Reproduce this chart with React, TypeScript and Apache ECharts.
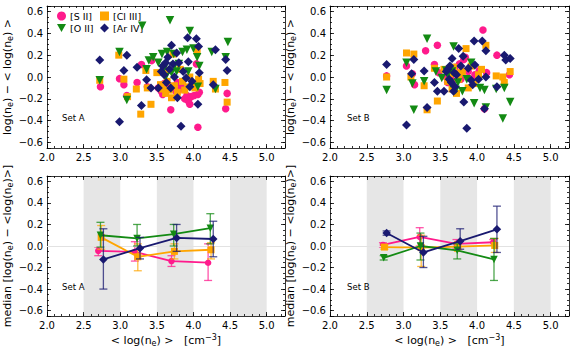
import React, { useEffect, useRef } from "react";
import * as echarts from "echarts";

// ---------- series metadata ----------
const SPECIES = ["[S II]", "[Cl III]", "[O II]", "[Ar IV]"];
const COLORS = ["#ff1a8c", "#ffa500", "#138a13", "#191970"];
const SYMBOLS = ["circle", "rect", "path://M0,0L10,0L5,9Z", "diamond"];
const SIZES = [7.5, 7, 8.5, 9];
const MED_SIZES = [6.5, 7, 7.5, 8.5];

// ---------- axes ----------
const X_MIN = 2.0;
const X_MAX = 5.25;
const Y_MIN = -0.65;
const Y_MAX = 0.65;
const X_MAJOR = 0.5;
const X_MINOR = 0.1;
const Y_MAJOR = 0.2;
const Y_MINOR = 0.05;
const BANDS = [
  [2.5, 3.0],
  [3.5, 4.0],
  [4.5, 5.0],
];

// ---------- Set A: individual points [<log ne>, deviation] ----------
const setA_SII = [
  [2.73, -0.09], [2.99, -0.015], [3.05, -0.07], [3.09, -0.17], [3.23, -0.05], [3.29, 0.115],
  [3.37, -0.09], [3.43, 0.15], [3.52, -0.1], [3.56, -0.13], [3.58, -0.16], [3.62, -0.12],
  [3.66, -0.08], [3.69, -0.3], [3.72, -0.1], [3.76, -0.13], [3.8, -0.12], [3.84, -0.09],
  [3.88, -0.2], [3.91, -0.17], [3.93, -0.22], [3.95, -0.25], [3.97, -0.18], [4.01, -0.17],
  [4.04, 0.12], [4.06, -0.16], [4.06, -0.46], [4.08, -0.14], [4.44, -0.29], [4.46, -0.15],
  [3.78, -0.05], [3.6, -0.06],
];
const setA_ClIII = [
  [2.72, -0.03], [2.98, 0.2], [3.05, -0.02], [3.1, -0.18], [3.22, -0.11], [3.28, -0.34],
  [3.35, 0.06], [3.37, -0.1], [3.42, -0.25], [3.5, 0.04], [3.55, -0.07], [3.58, -0.11],
  [3.62, -0.15], [3.64, -0.04], [3.67, -0.12], [3.7, -0.19], [3.72, 0.21], [3.74, -0.08],
  [3.78, -0.14], [3.82, 0.07], [3.85, -0.04], [3.88, -0.12], [3.92, -0.09], [3.95, 0.0],
  [3.98, -0.06], [4.02, -0.1], [4.05, 0.24], [4.07, -0.02], [4.09, -0.06], [4.27, -0.04],
  [4.3, -0.11], [4.43, -0.05], [4.46, -0.23], [3.66, 0.06],
];
const setA_OII = [
  [2.72, -0.03], [2.99, 0.23], [3.09, -0.21], [3.3, 0.47], [3.36, 0.07], [3.39, 0.15],
  [3.45, 0.18], [3.52, 0.13], [3.57, 0.21], [3.6, 0.08], [3.64, 0.23], [3.68, 0.52],
  [3.7, 0.04], [3.73, 0.21], [3.77, 0.05], [3.8, 0.12], [3.85, 0.23], [3.91, 0.25],
  [3.93, 0.05], [3.95, 0.42], [4.0, 0.26], [4.05, 0.18], [4.06, -0.09], [4.08, 0.1],
  [4.25, 0.23], [4.3, -0.11], [4.44, 0.18], [4.47, 0.32], [3.62, 0.0], [3.74, 0.1],
];
const setA_ArIV = [
  [2.72, 0.155], [2.99, -0.41], [3.05, 0.06], [3.09, 0.2], [3.23, 0.09], [3.29, -0.26],
  [3.36, -0.025], [3.42, -0.1], [3.52, -0.1], [3.56, 0.05], [3.58, 0.1], [3.6, 0.02],
  [3.62, 0.13], [3.63, -0.05], [3.65, 0.18], [3.67, 0.07], [3.69, -0.1], [3.7, 0.29],
  [3.72, 0.12], [3.74, 0.0], [3.77, 0.22], [3.78, -0.19], [3.8, 0.13], [3.83, -0.45],
  [3.86, 0.05], [3.9, -0.01], [3.92, 0.36], [3.93, 0.14], [3.95, -0.09], [3.98, -0.04],
  [4.04, 0.35], [4.06, -0.25], [4.07, 0.28], [4.08, 0.04], [4.27, -0.07], [4.3, 0.25],
  [4.44, 0.16], [4.46, 0.06],
];

// ---------- Set B: individual points ----------
const setB_SII = [
  [2.77, 0.01], [3.04, 0.1], [3.12, 0.03], [3.15, -0.07], [3.3, 0.24], [3.42, 0.115],
  [3.46, 0.29], [3.48, 0.04], [3.58, 0.0], [3.62, 0.07], [3.66, -0.03], [3.7, 0.09],
  [3.74, 0.03], [3.78, -0.02], [3.82, 0.16], [3.84, 0.18], [3.88, 0.05], [3.93, -0.02],
  [3.97, 0.02], [4.03, 0.06], [4.08, 0.43], [4.1, -0.29], [4.13, 0.04], [4.27, 0.2],
  [4.44, 0.02], [3.6, -0.05], [3.76, 0.12],
];
const setB_ClIII = [
  [2.77, 0.0], [3.04, 0.22], [3.1, 0.0], [3.14, 0.21], [3.28, -0.08], [3.32, -0.3],
  [3.42, 0.08], [3.46, -0.22], [3.55, 0.07], [3.6, -0.04], [3.64, 0.03], [3.68, 0.09],
  [3.72, -0.15], [3.75, -0.02], [3.8, 0.05], [3.85, 0.26], [3.88, -0.1], [3.92, 0.1],
  [3.96, -0.06], [4.02, 0.02], [4.06, 0.07], [4.12, 0.29], [4.26, 0.01], [4.35, 0.0],
  [4.37, -0.05], [4.45, 0.05], [3.66, -0.11], [3.78, 0.04],
];
const setB_OII = [
  [2.77, -0.12], [3.04, 0.13], [3.12, -0.06], [3.14, -0.3], [3.28, -0.04], [3.32, 0.35],
  [3.44, 0.05], [3.52, -0.01], [3.6, 0.02], [3.64, -0.06], [3.68, 0.28], [3.71, -0.12],
  [3.74, -0.05], [3.8, -0.13], [3.86, -0.02], [3.92, 0.13], [3.96, -0.24], [4.04, -0.1],
  [4.1, -0.12], [4.12, -0.28], [4.26, -0.11], [4.35, -0.38], [4.37, -0.1], [4.45, -0.23],
  [3.66, 0.05], [3.58, 0.06],
];
const setB_ArIV = [
  [2.77, 0.115], [3.04, -0.44], [3.11, 0.03], [3.14, 0.16], [3.28, 0.055], [3.32, -0.28],
  [3.42, -0.05], [3.46, -0.13], [3.55, -0.13], [3.58, 0.05], [3.6, 0.07], [3.62, -0.02],
  [3.63, 0.1], [3.65, -0.05], [3.66, 0.17], [3.68, -0.13], [3.69, 0.04], [3.7, -0.09],
  [3.72, 0.02], [3.75, 0.26], [3.78, 0.1], [3.81, 0.19], [3.82, -0.23], [3.86, -0.47],
  [3.88, 0.08], [3.92, -0.03], [3.94, -0.07], [3.96, 0.33], [3.97, 0.11], [4.02, -0.02],
  [4.07, 0.33], [4.1, -0.29], [4.12, 0.24], [4.12, 0.0], [4.27, -0.09], [4.37, 0.2],
  [4.39, 0.155], [4.45, 0.17],
];

// ---------- medians per bin: [x, median, low, high] ----------
const medA_SII = [[2.7, -0.045, -0.09, -0.01], [3.2, -0.055, -0.14, 0.04], [3.7, -0.14, -0.19, -0.09], [4.2, -0.155, -0.32, 0.02]];
const medA_ClIII = [[2.74, 0.08, -0.03, 0.19], [3.24, -0.1, -0.23, 0.02], [3.74, -0.05, -0.12, 0.02], [4.24, -0.035, -0.12, 0.03]];
const medA_OII = [[2.73, 0.1, -0.01, 0.22], [3.23, 0.07, 0.0, 0.2], [3.73, 0.11, 0.0, 0.2], [4.23, 0.165, 0.02, 0.3]];
const medA_ArIV = [[2.77, -0.125, -0.4, 0.16], [3.27, -0.02, -0.12, 0.08], [3.77, 0.075, -0.05, 0.2], [4.27, 0.065, -0.1, 0.23]];

const medB_SII = [[2.72, 0.01, -0.01, 0.03], [3.22, 0.085, 0.0, 0.17], [3.72, 0.02, -0.02, 0.06], [4.22, 0.035, 0.0, 0.06]];
const medB_ClIII = [[2.74, -0.01, -0.03, 0.01], [3.24, -0.015, -0.19, 0.1], [3.74, -0.005, -0.05, 0.04], [4.24, 0.005, -0.06, 0.07]];
const medB_OII = [[2.73, -0.11, -0.13, -0.09], [3.23, 0.0, -0.13, 0.12], [3.73, -0.04, -0.12, 0.02], [4.23, -0.125, -0.32, 0.07]];
const medB_ArIV = [[2.77, 0.12, 0.1, 0.14], [3.27, -0.06, -0.2, 0.09], [3.77, 0.045, -0.03, 0.16], [4.27, 0.155, -0.06, 0.37]];

const SET_LABELS = ["Set A", "Set B"];

const FONT = "DejaVu Sans";
const BLACK = "#000";

function fmt(v: number) {
  if (Math.abs(v) < 1e-9) return "0.0";
  return v.toFixed(1).replace("-", "\u2212");
}
function isMultiple(v: number, step: number) {
  const r = v / step;
  return Math.abs(r - Math.round(r)) < 1e-6;
}

export default function App() {
  const ref = useRef<HTMLDivElement>(null);

  useEffect(() => {
    if (!ref.current) return;
    const chart = echarts.init(ref.current, undefined, { renderer: "svg" });

    const grids = [
      { left: 47, top: 6, width: 238, height: 142 },
      { left: 330, top: 6, width: 239, height: 142 },
      { left: 47, top: 176, width: 238, height: 140 },
      { left: 330, top: 176, width: 239, height: 140 },
    ];

    const lineStyle = { color: BLACK, width: 0.8 };
    const xAxes: any[] = [];
    const yAxes: any[] = [];

    const yNameTop = "log(n{s|e}) \u2212 < log(n{s|e}) >";
    const yNameBottom = "median [log(n{s|e}) \u2212 <log(n{s|e})>]";
    const xName = "< log(n{s|e}) >   [cm{p|\u22123}]";
    const nameStyle = {
      fontFamily: FONT,
      fontSize: 11,
      color: BLACK,
      rich: {
        s: { fontFamily: FONT, fontSize: 8, color: BLACK, padding: [6, 0, 0, 0] },
        p: { fontFamily: FONT, fontSize: 8, color: BLACK, padding: [0, 0, 7, 0] },
      },
    };

    grids.forEach((_, g) => {
      const isBottom = g >= 2;
      xAxes.push({
        type: "value", gridIndex: g, position: "bottom", min: X_MIN, max: X_MAX, interval: X_MAJOR,
        axisLine: { show: true, onZero: false, lineStyle },
        axisTick: { show: true, inside: true, length: 4, lineStyle },
        axisLabel: {
          show: true, color: BLACK, fontFamily: FONT, fontSize: 10, margin: 4,
          formatter: (v: number) => (isMultiple(v, X_MAJOR) && v <= 5.0001 ? fmt(v) : ""),
        },
        splitLine: { show: false },
        name: isBottom ? xName : "",
        nameLocation: "middle",
        nameGap: 17,
        nameTextStyle: nameStyle,
      });
      xAxes.push({
        type: "value", gridIndex: g, position: "bottom", min: X_MIN, max: X_MAX, interval: X_MINOR,
        axisLine: { show: false, onZero: false },
        axisTick: { show: true, inside: true, length: 2, lineStyle },
        axisLabel: { show: false }, splitLine: { show: false },
      });
      xAxes.push({
        type: "value", gridIndex: g, position: "top", min: X_MIN, max: X_MAX, interval: X_MAJOR,
        axisLine: { show: true, onZero: false, lineStyle },
        axisTick: { show: true, inside: true, length: 4, lineStyle },
        axisLabel: { show: false }, splitLine: { show: false },
      });
      xAxes.push({
        type: "value", gridIndex: g, position: "top", min: X_MIN, max: X_MAX, interval: X_MINOR,
        axisLine: { show: false, onZero: false },
        axisTick: { show: true, inside: true, length: 2, lineStyle },
        axisLabel: { show: false }, splitLine: { show: false },
      });

      yAxes.push({
        type: "value", gridIndex: g, position: "left", min: Y_MIN, max: Y_MAX,
        minInterval: Y_MAJOR, maxInterval: Y_MAJOR, splitNumber: 6,
        axisLine: { show: true, onZero: false, lineStyle },
        axisTick: { show: true, inside: true, length: 4, lineStyle },
        axisLabel: {
          show: true, color: BLACK, fontFamily: FONT, fontSize: 10, margin: 4,
          formatter: (v: number) => (isMultiple(v, Y_MAJOR) ? fmt(v) : ""),
        },
        splitLine: { show: false },
        name: isBottom ? yNameBottom : yNameTop,
        nameLocation: "middle",
        nameGap: isBottom ? 31 : 29,
        nameRotate: 90,
        nameTextStyle: nameStyle,
      });
      yAxes.push({
        type: "value", gridIndex: g, position: "left", min: Y_MIN, max: Y_MAX, interval: Y_MINOR,
        axisLine: { show: false, onZero: false },
        axisTick: { show: true, inside: true, length: 2, lineStyle },
        axisLabel: { show: false }, splitLine: { show: false },
      });
      yAxes.push({
        type: "value", gridIndex: g, position: "right", min: Y_MIN, max: Y_MAX,
        minInterval: Y_MAJOR, maxInterval: Y_MAJOR, splitNumber: 6,
        axisLine: { show: true, onZero: false, lineStyle },
        axisTick: { show: true, inside: true, length: 4, lineStyle },
        axisLabel: { show: false }, splitLine: { show: false },
      });
      yAxes.push({
        type: "value", gridIndex: g, position: "right", min: Y_MIN, max: Y_MAX, interval: Y_MINOR,
        axisLine: { show: false, onZero: false },
        axisTick: { show: true, inside: true, length: 2, lineStyle },
        axisLabel: { show: false }, splitLine: { show: false },
      });
    });

    const series: any[] = [];
    const scatterSets = [
      [setA_SII, setA_ClIII, setA_OII, setA_ArIV],
      [setB_SII, setB_ClIII, setB_OII, setB_ArIV],
    ];
    scatterSets.forEach((sets, g) => {
      sets.forEach((data, k) => {
        series.push({
          type: "scatter",
          name: SPECIES[k],
          xAxisIndex: g * 4,
          yAxisIndex: g * 4,
          data,
          symbol: SYMBOLS[k],
          symbolSize: SIZES[k],
          itemStyle: { color: COLORS[k], opacity: 1 },
          z: 3 + k,
        });
      });
    });

    const medSets = [
      [medA_SII, medA_ClIII, medA_OII, medA_ArIV],
      [medB_SII, medB_ClIII, medB_OII, medB_ArIV],
    ];
    medSets.forEach((sets, j) => {
      const g = j + 2;
      series.push({
        type: "custom",
        name: "bands" + j,
        xAxisIndex: g * 4,
        yAxisIndex: g * 4,
        data: BANDS.map((b) => [b[0], b[1], 0]),
        encode: { x: [0, 1], y: 2 },
        z: 0,
        silent: true,
        renderItem: (params: any, api: any) => {
          const a = api.coord([api.value(0), 0]);
          const b = api.coord([api.value(1), 0]);
          const cs = params.coordSys;
          return {
            type: "rect",
            shape: { x: a[0], y: cs.y, width: b[0] - a[0], height: cs.height },
            style: { fill: "#e6e6e6" },
          };
        },
        markLine: {
          silent: true,
          symbol: "none",
          label: { show: false },
          lineStyle: { color: "#e2e2e2", width: 1, type: "solid" },
          data: [{ yAxis: 0 }],
        },
      });
      sets.forEach((rows, k) => {
        const color = COLORS[k];
        series.push({
          type: "custom",
          name: SPECIES[k] + " err" + j,
          xAxisIndex: g * 4,
          yAxisIndex: g * 4,
          data: rows.map((r) => [r[0], r[2], r[3]]),
          encode: { x: 0, y: [1, 2] },
          z: 3 + k * 2,
          renderItem: (_params: any, api: any) => {
            const x = api.value(0);
            const lo = api.coord([x, api.value(1)]);
            const hi = api.coord([x, api.value(2)]);
            const w = 4;
            const st = { stroke: color, lineWidth: 1.3, opacity: 0.75 };
            return {
              type: "group",
              children: [
                { type: "line", shape: { x1: lo[0], y1: lo[1], x2: hi[0], y2: hi[1] }, style: st },
                { type: "line", shape: { x1: lo[0] - w, y1: lo[1], x2: lo[0] + w, y2: lo[1] }, style: st },
                { type: "line", shape: { x1: hi[0] - w, y1: hi[1], x2: hi[0] + w, y2: hi[1] }, style: st },
              ],
            };
          },
        });
        series.push({
          type: "line",
          name: SPECIES[k] + " median" + j,
          xAxisIndex: g * 4,
          yAxisIndex: g * 4,
          data: rows.map((r) => [r[0], r[1]]),
          symbol: SYMBOLS[k],
          symbolSize: MED_SIZES[k],
          showAllSymbol: true,
          lineStyle: { color, width: 1.8 },
          itemStyle: { color },
          z: 4 + k * 2,
        });
      });
    });

    const legendCommon = {
      orient: "vertical",
      top: 11,
      itemWidth: 9,
      itemHeight: 9,
      itemGap: 2,
      padding: 0,
      selectedMode: false,
      textStyle: { fontFamily: FONT, fontSize: 9.5, color: BLACK, padding: [0, 0, 0, -1] },
    };

    const setTextPos = [
      { left: 62, top: 113 },
      { left: 347, top: 113 },
      { left: 62, top: 282 },
      { left: 347, top: 282 },
    ];

    chart.setOption({
      animation: false,
      textStyle: { fontFamily: FONT },
      grid: grids.map((gr) => ({ ...gr, containLabel: false })),
      xAxis: xAxes,
      yAxis: yAxes,
      legend: [
        { ...legendCommon, left: 57, data: [SPECIES[0], SPECIES[2]] },
        { ...legendCommon, left: 100, data: [SPECIES[1], SPECIES[3]] },
      ],
      graphic: setTextPos.map((p, i) => ({
        type: "text",
        left: p.left,
        top: p.top,
        style: { text: SET_LABELS[i % 2], fontFamily: FONT, fontSize: 8.5, fill: BLACK },
        z: 100,
      })),
      series,
    });

    return () => chart.dispose();
  }, []);

  return (
    <div
      ref={ref}
      style={{ position: "absolute", left: 0, top: 0, width: 581, height: 349, background: "#fff" }}
    />
  );
}
